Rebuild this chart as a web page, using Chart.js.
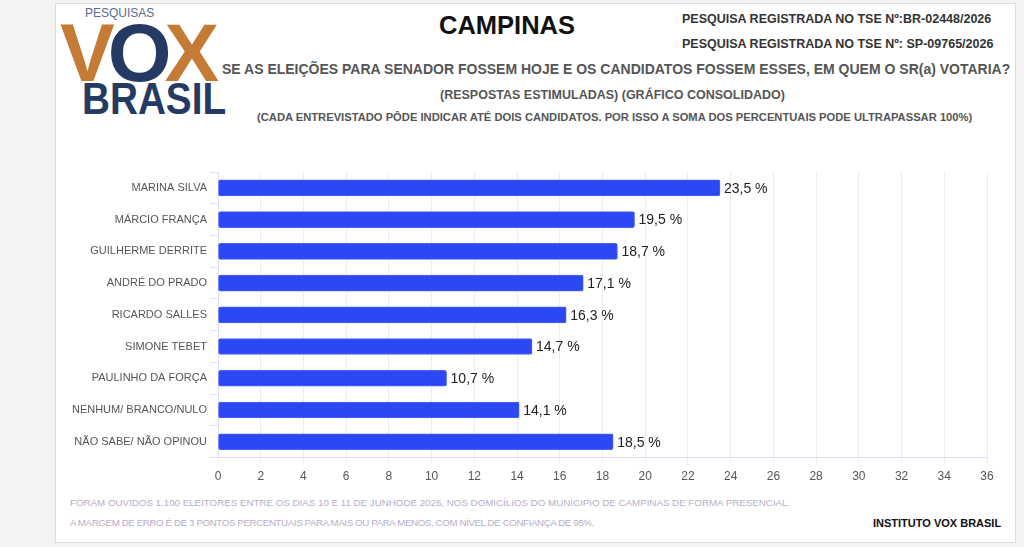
<!DOCTYPE html>
<html>
<head>
<meta charset="utf-8">
<script src="https://cdn.jsdelivr.net/npm/chart.js@4"></script>
<style>
  body { margin: 0; background: #f4f3f1; font-family: "Liberation Sans", Arial, sans-serif; }
  #card { position: absolute; left: 55px; top: 3px; width: 959px; height: 538px; background: #fff; border: 1px solid #dcdcdc; }
  .abs { position: absolute; white-space: nowrap; }
  #chartBox { position: absolute; left: 60px; top: 156px; width: 940px; height: 334px; }
</style>
</head>
<body>
<div id="card"></div>

<!-- logo -->
<div class="abs" style="left:85px;top:6px;font-size:12px;color:#5b6b8c;">PESQUISAS</div>
<div class="abs" style="left:60px;top:8px;font-size:82px;font-weight:bold;color:#c47b36;letter-spacing:-7px;line-height:90px;">V<span style="color:#243a63">O</span>X</div>
<div class="abs" style="left:82px;top:76px;font-size:45px;font-weight:bold;color:#243a63;line-height:46px;transform:scaleX(0.86);transform-origin:left;">BRASIL</div>

<!-- header -->
<div class="abs" style="left:0;width:1014px;top:11px;text-align:center;font-size:25.5px;font-weight:bold;color:#111;">CAMPINAS</div>
<div class="abs" style="left:682px;top:12px;font-size:12.5px;font-weight:bold;color:#333;">PESQUISA REGISTRADA NO TSE Nº:BR-02448/2026</div>
<div class="abs" style="left:682px;top:37px;font-size:12.5px;font-weight:bold;color:#333;">PESQUISA REGISTRADA NO TSE Nº: SP-09765/2026</div>
<div class="abs" style="left:222px;top:61px;font-size:14px;font-weight:bold;color:#555;">SE AS ELEIÇÕES PARA SENADOR FOSSEM HOJE E OS CANDIDATOS FOSSEM ESSES, EM QUEM O SR(a) VOTARIA?</div>
<div class="abs" style="left:440px;top:88px;font-size:12.5px;font-weight:bold;color:#555;">(RESPOSTAS ESTIMULADAS) (GRÁFICO CONSOLIDADO)</div>
<div class="abs" style="left:257px;top:111px;font-size:11.2px;font-weight:bold;color:#555;">(CADA ENTREVISTADO PÔDE INDICAR ATÉ DOIS CANDIDATOS. POR ISSO A SOMA DOS PERCENTUAIS PODE ULTRAPASSAR 100%)</div>

<div id="chartBox"><canvas id="chart"></canvas></div>

<!-- footer -->
<div class="abs" style="left:70px;top:497px;font-size:9.75px;color:#b6aec8;">FORAM OUVIDOS 1.100 ELEITORES ENTRE OS DIAS 10 E 11 DE JUNHODE 2026, NOS DOMICÍLIOS DO MUNÍCIPIO DE CAMPINAS DE FORMA PRESENCIAL.</div>
<div class="abs" style="left:70px;top:517px;font-size:9.75px;letter-spacing:-0.4px;color:#b6aec8;">A MARGEM DE ERRO É DE 3 PONTOS PERCENTUAIS PARA MAIS OU PARA MENOS, COM NÍVEL DE CONFIANÇA DE 95%.</div>
<div class="abs" style="left:873px;top:517px;font-size:11px;font-weight:bold;color:#111;">INSTITUTO VOX BRASIL</div>

<script>
const candidates = ['MARINA SILVA', 'MÁRCIO FRANÇA', 'GUILHERME DERRITE', 'ANDRÉ DO PRADO',
  'RICARDO SALLES', 'SIMONE TEBET', 'PAULINHO DA FORÇA', 'NENHUM/ BRANCO/NULO', 'NÃO SABE/ NÃO OPINOU'];
const percents = [23.5, 19.5, 18.7, 17.1, 16.3, 14.7, 10.7, 14.1, 18.5];
const axisMax = 36;
const axisStep = 2;

// write "23,5 %" right after each bar
const valueLabels = {
  id: 'valueLabels',
  afterDatasetsDraw(chart) {
    const ctx = chart.ctx;
    const meta = chart.getDatasetMeta(0);
    ctx.save();
    ctx.font = '14px "Liberation Sans", Arial, sans-serif';
    ctx.fillStyle = '#222';
    ctx.textBaseline = 'middle';
    meta.data.forEach((bar, i) => {
      const txt = percents[i].toFixed(1).replace('.', ',') + ' %';
      ctx.fillText(txt, bar.x + 4, bar.y + 1);
    });
    ctx.restore();
  }
};

new Chart(document.getElementById('chart'), {
  type: 'bar',
  data: {
    labels: candidates,
    datasets: [{
      data: percents,
      backgroundColor: '#2b47f6',
      borderColor: '#4b64f5',
      borderWidth: 1,
      borderRadius: 2,
      borderSkipped: false,
      barThickness: 16
    }]
  },
  options: {
    indexAxis: 'y',
    responsive: true,
    maintainAspectRatio: false,
    animation: false,
    layout: { padding: { top: 16, right: 13 } },
    plugins: { legend: { display: false }, tooltip: { enabled: false } },
    scales: {
      x: {
        min: 0, max: axisMax,
        ticks: { stepSize: axisStep, color: '#555', font: { size: 12 }, padding: 6 },
        grid: { color: '#ebebf0', tickLength: 6 },
        border: { color: '#dde0f5' }
      },
      y: {
        afterFit: s => { s.width = 158; },
        ticks: { color: '#555', font: { size: 11 }, padding: 3 },
        grid: { drawOnChartArea: false, color: '#dde0f5', tickLength: 8 },
        border: { color: '#dde0f5' }
      }
    }
  },
  plugins: [valueLabels]
});
</script>
</body>
</html>
